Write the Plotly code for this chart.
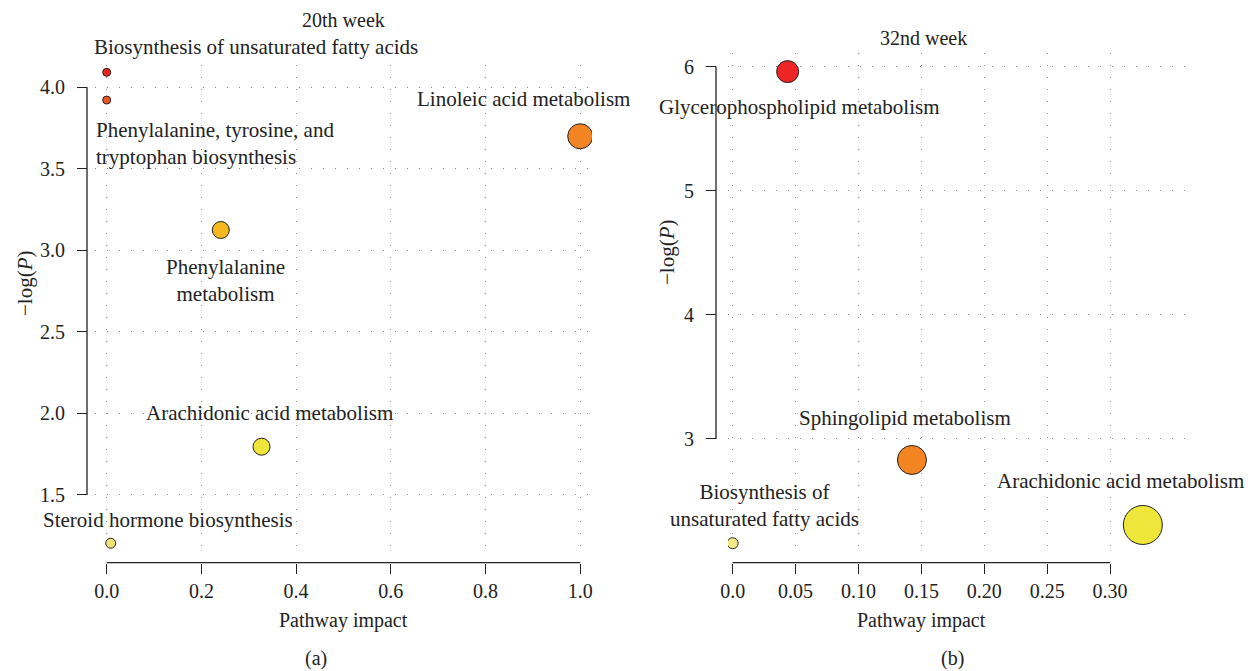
import plotly.graph_objects as go

# page is offset by the default 8px body margin; figure sized to fit the window
OFF = 8
W, H = 1257 - OFF, 671 - OFF

# ---------------- data ----------------
# Panel (a): 20th week
a_names = ["Biosynthesis of unsaturated fatty acids",
           "Phenylalanine, tyrosine, and<br>tryptophan biosynthesis",
           "Linoleic acid metabolism",
           "Phenylalanine<br>metabolism",
           "Arachidonic acid metabolism",
           "Steroid hormone biosynthesis"]
a_impact = [0.0, 0.0, 1.0, 0.241, 0.327, 0.0085]
a_logp = [4.092, 3.922, 3.70, 3.125, 1.796, 1.204]
a_colors = ["#E8251F", "#E9562A", "#F28422", "#F4B820", "#EEE63A", "#F2E17A"]
a_sizes = [8, 8, 25, 17, 17, 10]

# Panel (b): 32nd week
b_names = ["Glycerophospholipid metabolism",
           "Sphingolipid metabolism",
           "Arachidonic acid metabolism",
           "Biosynthesis of<br>unsaturated fatty acids"]
b_impact = [0.0437, 0.1425, 0.326, 0.0]
b_logp = [5.96, 2.831, 2.307, 2.16]
b_colors = ["#EE2427", "#F28422", "#EEE63A", "#F3E98A"]
b_sizes = [22, 29, 39, 11]

a_xticks = [0.0, 0.2, 0.4, 0.6, 0.8, 1.0]
a_xticklabels = ["0.0", "0.2", "0.4", "0.6", "0.8", "1.0"]
a_yticks = [1.5, 2.0, 2.5, 3.0, 3.5, 4.0]
a_yticklabels = ["1.5", "2.0", "2.5", "3.0", "3.5", "4.0"]
b_xticks = [0.0, 0.05, 0.10, 0.15, 0.20, 0.25, 0.30]
b_xticklabels = ["0.0", "0.05", "0.10", "0.15", "0.20", "0.25", "0.30"]
b_yticks = [3, 4, 5, 6]
b_yticklabels = ["3", "4", "5", "6"]

# label offsets (px) relative to each point: (xshift, yshift, xanchor)
a_label_offsets = [(149, 25, "center"), (-13, -43, "left"), (-57, 37, "center"),
                   (5, -50, "center"), (8, 34, "center"), (57, 23, "center")]
b_label_offsets = [(12, -35, "center"), (-7, 42, "center"), (-22, 44, "center"),
                   (32, 38, "center")]

FONT = "Liberation Serif"
FS = 20
FS_LABEL = 21

def px_x(p):
    return (p - OFF) / W

def px_y(p):
    return 1 - (p - OFF) / H

fig = go.Figure()

fig.add_trace(go.Scatter(
    x=a_impact, y=a_logp, mode="markers", xaxis="x", yaxis="y",
    marker=dict(size=a_sizes, color=a_colors, opacity=1,
                line=dict(color="#222", width=1)),
    showlegend=False, hoverinfo="skip"))
fig.add_trace(go.Scatter(
    x=b_impact, y=b_logp, mode="markers", xaxis="x2", yaxis="y2",
    marker=dict(size=b_sizes, color=b_colors, opacity=1,
                line=dict(color="#222", width=1)),
    showlegend=False, hoverinfo="skip"))

grid = dict(showgrid=True, gridcolor="#8a8a8a", gridwidth=1, griddash="1px,11px",
            zeroline=False, showline=False, ticks="outside", ticklen=10,
            tickwidth=1, tickcolor="#222", automargin=False,
            tickfont=dict(family=FONT, size=FS, color="#222"))

fig.update_layout(
    width=W, height=H, margin=dict(l=0, r=0, t=0, b=0, pad=0),
    paper_bgcolor="white", plot_bgcolor="white",
    xaxis=dict(domain=[px_x(95), px_x(592)], range=[-0.0247, 1.0249],
               anchor="free", position=px_y(562.7),
               tickvals=a_xticks, ticktext=a_xticklabels, **grid),
    yaxis=dict(domain=[px_y(553), px_y(65)], range=[1.144, 4.137],
               anchor="free", position=px_x(87), ticklabelstandoff=8,
               tickvals=a_yticks, ticktext=a_yticklabels, **grid),
    xaxis2=dict(domain=[px_x(728), px_x(1190)], range=[-0.0037, 0.3635],
                anchor="free", position=px_y(562.7),
                tickvals=b_xticks, ticktext=b_xticklabels, **grid),
    yaxis2=dict(domain=[px_y(555), px_y(53)], range=[2.065, 6.11],
                anchor="free", position=px_x(716), ticklabelstandoff=8,
                tickvals=b_yticks, ticktext=b_yticklabels, **grid),
)

# R-style axis lines spanning first to last tick
line = dict(color="#222", width=1.3)
fig.add_shape(type="line", xref="paper", yref="y", x0=px_x(87), x1=px_x(87),
              y0=a_yticks[0], y1=a_yticks[-1], line=line)
fig.add_shape(type="line", xref="x", yref="paper", x0=a_xticks[0], x1=a_xticks[-1],
              y0=px_y(562.7), y1=px_y(562.7), line=line)
fig.add_shape(type="line", xref="paper", yref="y2", x0=px_x(716), x1=px_x(716),
              y0=b_yticks[0], y1=b_yticks[-1], line=line)
fig.add_shape(type="line", xref="x2", yref="paper", x0=b_xticks[0], x1=b_xticks[-1],
              y0=px_y(562.7), y1=px_y(562.7), line=line)

tf = dict(family=FONT, size=FS, color="#222")
lf = dict(family=FONT, size=FS_LABEL, color="#222")

for name, xv, yv, (dx, dy, xa) in zip(a_names, a_impact, a_logp, a_label_offsets):
    fig.add_annotation(x=xv, y=yv, xref="x", yref="y", text=name, showarrow=False,
                       xshift=dx, yshift=dy, xanchor=xa,
                       align="left" if xa == "left" else "center", font=lf)
for name, xv, yv, (dx, dy, xa) in zip(b_names, b_impact, b_logp, b_label_offsets):
    fig.add_annotation(x=xv, y=yv, xref="x2", yref="y2", text=name, showarrow=False,
                       xshift=dx, yshift=dy, xanchor=xa,
                       align="left" if xa == "left" else "center", font=lf)

def text_at(px, py, txt, angle=0, font=tf):
    fig.add_annotation(x=px_x(px), y=px_y(py), xref="paper", yref="paper", text=txt,
                       showarrow=False, xanchor="center", yanchor="middle",
                       textangle=angle, font=font)

text_at(343, 20, "20th week")
text_at(923, 38, "32nd week")
text_at(343, 620, "Pathway impact")
text_at(921, 620, "Pathway impact")
text_at(316, 658, "(a)")
text_at(952, 658, "(b)")
text_at(25, 283, "\u2212log(<i>P</i>)", angle=-90, font=lf)
text_at(667, 252, "\u2212log(<i>P</i>)", angle=-90, font=lf)

fig.write_html("out.html")
